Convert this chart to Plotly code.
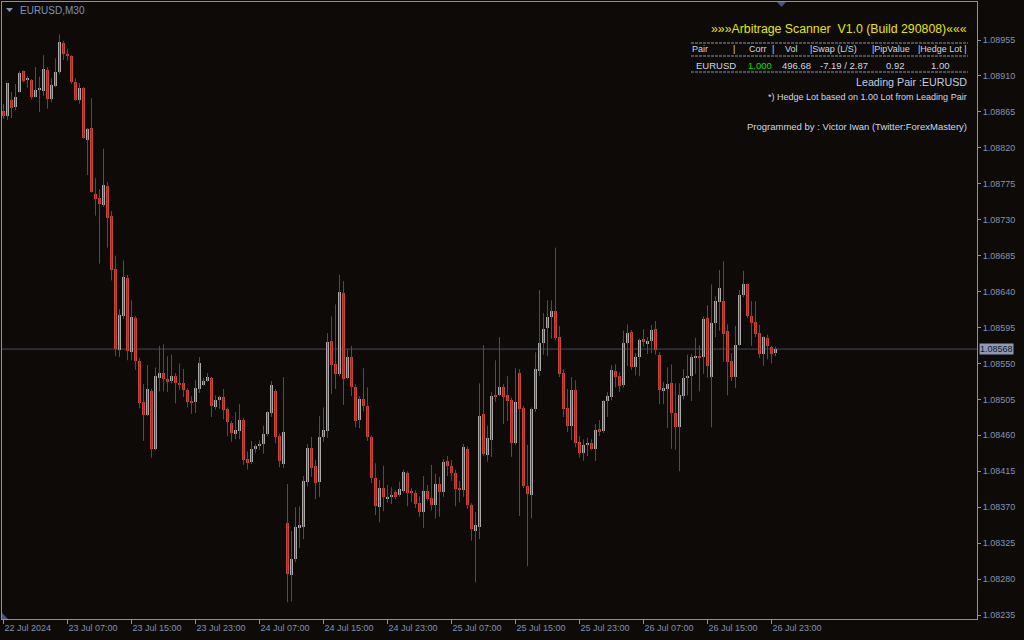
import plotly.graph_objects as go

# ---------------- data (EURUSD M30, 22 Jul 2024 23:00 -> 26 Jul 2024 23:30) ----------------
open_ = [
    1.08866, 1.08860, 1.08880, 1.08871, 1.08890, 1.08916, 1.08906, 1.08905, 1.08884, 1.08893,
    1.08891, 1.08918, 1.08881, 1.08897, 1.08915, 1.08951, 1.08937, 1.08935, 1.08902, 1.08880,
    1.08895, 1.08830, 1.08845, 1.08762, 1.08757, 1.08749, 1.08772, 1.08734, 1.08668, 1.08567,
    1.08610, 1.08657, 1.08564, 1.08607, 1.08553, 1.08502, 1.08485, 1.08516, 1.08443, 1.08532,
    1.08538, 1.08530, 1.08528, 1.08534, 1.08525, 1.08526, 1.08517, 1.08503, 1.08502, 1.08518,
    1.08523, 1.08528, 1.08532, 1.08495, 1.08504, 1.08508, 1.08493, 1.08476, 1.08462, 1.08466,
    1.08479, 1.08430, 1.08426, 1.08443, 1.08447, 1.08449, 1.08462, 1.08488, 1.08515, 1.08459,
    1.08424, 1.08350, 1.08285, 1.08305, 1.08344, 1.08345, 1.08402, 1.08444, 1.08421, 1.08401,
    1.08458, 1.08465, 1.08578, 1.08549, 1.08537, 1.08638, 1.08532, 1.08558, 1.08521, 1.08479,
    1.08505, 1.08497, 1.08458, 1.08407, 1.08370, 1.08394, 1.08380, 1.08383, 1.08389, 1.08385,
    1.08390, 1.08413, 1.08389, 1.08388, 1.08375, 1.08364, 1.08390, 1.08381, 1.08373, 1.08399,
    1.08389, 1.08428, 1.08422, 1.08413, 1.08394, 1.08392, 1.08443, 1.08373, 1.08340, 1.08345,
    1.08487, 1.08435, 1.08454, 1.08510, 1.08510, 1.08520, 1.08511, 1.08504, 1.08450, 1.08538,
    1.08494, 1.08397, 1.08385, 1.08493, 1.08541, 1.08575, 1.08595, 1.08608, 1.08616, 1.08583,
    1.08538, 1.08494, 1.08472, 1.08517, 1.08452, 1.08438, 1.08448, 1.08450, 1.08443, 1.08468,
    1.08465, 1.08503, 1.08508, 1.08541, 1.08534, 1.08523, 1.08575, 1.08589, 1.08546, 1.08558,
    1.08580, 1.08574, 1.08578, 1.08593, 1.08560, 1.08515, 1.08518, 1.08525, 1.08488, 1.08470,
    1.08509, 1.08532, 1.08534, 1.08558, 1.08559, 1.08558, 1.08607, 1.08533, 1.08601, 1.08627,
    1.08628, 1.08590, 1.08553, 1.08533, 1.08573, 1.08636, 1.08649, 1.08610, 1.08602, 1.08588,
    1.08562, 1.08582, 1.08571, 1.08563,
]
high = [
    1.08875, 1.08901, 1.08890, 1.08900, 1.08916, 1.08917, 1.08910, 1.08906, 1.08921, 1.08909,
    1.08936, 1.08921, 1.08907, 1.08932, 1.08962, 1.08954, 1.08944, 1.08936, 1.08907, 1.08901,
    1.08896, 1.08845, 1.08882, 1.08782, 1.08768, 1.08819, 1.08777, 1.08741, 1.08685, 1.08618,
    1.08679, 1.08661, 1.08629, 1.08609, 1.08557, 1.08524, 1.08548, 1.08518, 1.08545, 1.08572,
    1.08574, 1.08559, 1.08561, 1.08538, 1.08550, 1.08543, 1.08519, 1.08509, 1.08529, 1.08558,
    1.08532, 1.08538, 1.08533, 1.08510, 1.08510, 1.08518, 1.08495, 1.08478, 1.08489, 1.08499,
    1.08482, 1.08440, 1.08453, 1.08449, 1.08454, 1.08472, 1.08490, 1.08528, 1.08518, 1.08462,
    1.08533, 1.08399, 1.08340, 1.08370, 1.08371, 1.08409, 1.08449, 1.08458, 1.08429, 1.08484,
    1.08495, 1.08588, 1.08609, 1.08624, 1.08661, 1.08653, 1.08568, 1.08572, 1.08524, 1.08509,
    1.08544, 1.08520, 1.08460, 1.08425, 1.08404, 1.08422, 1.08398, 1.08395, 1.08391, 1.08402,
    1.08417, 1.08415, 1.08394, 1.08391, 1.08384, 1.08409, 1.08398, 1.08423, 1.08412, 1.08408,
    1.08430, 1.08434, 1.08429, 1.08417, 1.08403, 1.08449, 1.08446, 1.08375, 1.08364, 1.08525,
    1.08573, 1.08472, 1.08514, 1.08554, 1.08583, 1.08524, 1.08534, 1.08507, 1.08544, 1.08543,
    1.08497, 1.08448, 1.08495, 1.08564, 1.08642, 1.08613, 1.08629, 1.08629, 1.08695, 1.08597,
    1.08543, 1.08518, 1.08533, 1.08529, 1.08459, 1.08455, 1.08457, 1.08455, 1.08474, 1.08479,
    1.08504, 1.08514, 1.08548, 1.08549, 1.08539, 1.08591, 1.08599, 1.08592, 1.08563, 1.08581,
    1.08593, 1.08583, 1.08598, 1.08603, 1.08564, 1.08527, 1.08545, 1.08549, 1.08525, 1.08525,
    1.08543, 1.08561, 1.08562, 1.08582, 1.08573, 1.08609, 1.08623, 1.08649, 1.08634, 1.08667,
    1.08678, 1.08599, 1.08563, 1.08597, 1.08642, 1.08666, 1.08650, 1.08628, 1.08628, 1.08598,
    1.08584, 1.08586, 1.08572, 1.08571,
]
low = [
    1.08856, 1.08855, 1.08857, 1.08867, 1.08889, 1.08902, 1.08895, 1.08881, 1.08883, 1.08865,
    1.08885, 1.08869, 1.08877, 1.08896, 1.08912, 1.08930, 1.08929, 1.08900, 1.08879, 1.08875,
    1.08831, 1.08786, 1.08764, 1.08735, 1.08675, 1.08746, 1.08695, 1.08654, 1.08559, 1.08558,
    1.08606, 1.08554, 1.08554, 1.08542, 1.08494, 1.08453, 1.08484, 1.08432, 1.08441, 1.08515,
    1.08515, 1.08514, 1.08525, 1.08500, 1.08517, 1.08508, 1.08495, 1.08487, 1.08488, 1.08513,
    1.08522, 1.08527, 1.08483, 1.08492, 1.08493, 1.08480, 1.08459, 1.08452, 1.08455, 1.08455,
    1.08423, 1.08417, 1.08424, 1.08438, 1.08442, 1.08437, 1.08459, 1.08483, 1.08450, 1.08420,
    1.08419, 1.08251, 1.08252, 1.08301, 1.08319, 1.08330, 1.08396, 1.08408, 1.08380, 1.08383,
    1.08452, 1.08457, 1.08512, 1.08518, 1.08534, 1.08498, 1.08530, 1.08509, 1.08470, 1.08469,
    1.08490, 1.08453, 1.08400, 1.08360, 1.08351, 1.08365, 1.08376, 1.08374, 1.08380, 1.08383,
    1.08388, 1.08371, 1.08376, 1.08369, 1.08358, 1.08344, 1.08378, 1.08366, 1.08356, 1.08358,
    1.08383, 1.08409, 1.08403, 1.08371, 1.08376, 1.08383, 1.08368, 1.08328, 1.08276, 1.08330,
    1.08434, 1.08427, 1.08433, 1.08502, 1.08509, 1.08474, 1.08478, 1.08433, 1.08448, 1.08359,
    1.08394, 1.08296, 1.08356, 1.08489, 1.08534, 1.08561, 1.08559, 1.08581, 1.08579, 1.08533,
    1.08483, 1.08464, 1.08454, 1.08445, 1.08432, 1.08428, 1.08434, 1.08442, 1.08428, 1.08459,
    1.08463, 1.08483, 1.08504, 1.08520, 1.08514, 1.08520, 1.08547, 1.08542, 1.08535, 1.08534,
    1.08571, 1.08562, 1.08563, 1.08561, 1.08499, 1.08499, 1.08469, 1.08443, 1.08442, 1.08415,
    1.08505, 1.08510, 1.08503, 1.08537, 1.08515, 1.08537, 1.08532, 1.08470, 1.08583, 1.08591,
    1.08552, 1.08510, 1.08528, 1.08519, 1.08572, 1.08633, 1.08607, 1.08572, 1.08583, 1.08557,
    1.08547, 1.08555, 1.08550, 1.08559,
]
close = [
    1.08860, 1.08901, 1.08870, 1.08884, 1.08914, 1.08904, 1.08906, 1.08884, 1.08892, 1.08894,
    1.08919, 1.08881, 1.08899, 1.08915, 1.08952, 1.08937, 1.08935, 1.08902, 1.08880, 1.08895,
    1.08832, 1.08844, 1.08765, 1.08756, 1.08750, 1.08773, 1.08732, 1.08667, 1.08568, 1.08611,
    1.08658, 1.08566, 1.08608, 1.08553, 1.08500, 1.08485, 1.08518, 1.08443, 1.08534, 1.08538,
    1.08530, 1.08528, 1.08534, 1.08525, 1.08524, 1.08517, 1.08502, 1.08501, 1.08519, 1.08550,
    1.08528, 1.08533, 1.08497, 1.08504, 1.08508, 1.08492, 1.08477, 1.08463, 1.08467, 1.08479,
    1.08429, 1.08425, 1.08443, 1.08447, 1.08449, 1.08462, 1.08489, 1.08523, 1.08458, 1.08428,
    1.08464, 1.08286, 1.08305, 1.08345, 1.08348, 1.08403, 1.08444, 1.08419, 1.08400, 1.08458,
    1.08467, 1.08577, 1.08548, 1.08537, 1.08639, 1.08530, 1.08558, 1.08520, 1.08478, 1.08505,
    1.08497, 1.08458, 1.08406, 1.08371, 1.08394, 1.08383, 1.08383, 1.08384, 1.08383, 1.08393,
    1.08414, 1.08388, 1.08388, 1.08374, 1.08364, 1.08390, 1.08380, 1.08373, 1.08399, 1.08389,
    1.08427, 1.08422, 1.08413, 1.08393, 1.08392, 1.08445, 1.08373, 1.08343, 1.08348, 1.08484,
    1.08437, 1.08457, 1.08509, 1.08509, 1.08520, 1.08508, 1.08503, 1.08450, 1.08502, 1.08493,
    1.08396, 1.08386, 1.08493, 1.08543, 1.08576, 1.08593, 1.08608, 1.08616, 1.08582, 1.08537,
    1.08493, 1.08472, 1.08517, 1.08450, 1.08438, 1.08448, 1.08449, 1.08443, 1.08467, 1.08464,
    1.08503, 1.08509, 1.08542, 1.08533, 1.08522, 1.08576, 1.08588, 1.08545, 1.08558, 1.08579,
    1.08577, 1.08578, 1.08592, 1.08567, 1.08517, 1.08519, 1.08524, 1.08488, 1.08470, 1.08510,
    1.08532, 1.08534, 1.08558, 1.08559, 1.08557, 1.08606, 1.08547, 1.08601, 1.08628, 1.08644,
    1.08587, 1.08552, 1.08533, 1.08573, 1.08636, 1.08649, 1.08609, 1.08601, 1.08587, 1.08562,
    1.08583, 1.08572, 1.08562, 1.08568,
]

# time axis labels (one every 16 bars of 30 min)
x_tick_bars = [0, 16, 32, 48, 64, 80, 96, 112, 128, 144, 160, 176, 192]
x_tick_text = ["22 Jul 2024", "23 Jul 07:00", "23 Jul 15:00", "23 Jul 23:00", "24 Jul 07:00",
               "24 Jul 15:00", "24 Jul 23:00", "25 Jul 07:00", "25 Jul 15:00", "25 Jul 23:00",
               "26 Jul 07:00", "26 Jul 15:00", "26 Jul 23:00"]
y_ticks = [1.08235, 1.08280, 1.08325, 1.08370, 1.08415, 1.08460, 1.08505, 1.08550, 1.08595,
           1.08640, 1.08685, 1.08730, 1.08775, 1.08820, 1.08865, 1.08910, 1.08955]
last_price = 1.08568

# table panel values
panel_title = "\u00bb\u00bb\u00bbArbitrage Scanner  V1.0 (Build 290808)\u00ab\u00ab\u00ab"
row_pair, row_corr, row_vol, row_swap, row_pip, row_lot = "EURUSD", "1.000", "496.68", "-7.19 / 2.87", "0.92", "1.00"

# ---------------- styles ----------------
BG = "#0d0a08"
UP = "#a9a9a9"
DN = "#c9463a"
WICK = "#4e4e4e"
FRAME = "#8a90a6"
AXTXT = "#8193b6"
FONT = "Liberation Sans, Arial, sans-serif"
DOJI_H = 0.0000125

W, H = 1024, 640
L, R, T, B = 2, 47, 2, 21
PW, PH = W - L - R, H - T - B


def px_x(px):
    return (px - L) / PW


def px_y(py):
    return (H - B - py) / PH


n = len(open_)
idx = list(range(n))

# wicks
wx, wy = [], []
for i in idx:
    wx += [i, i, None]
    wy += [low[i], high[i], None]

up_x, up_base, up_h = [], [], []
dn_x, dn_base, dn_h = [], [], []
for i in idx:
    o, c = open_[i], close[i]
    hgt = max(abs(c - o), DOJI_H)
    if c >= o:
        up_x.append(i); up_base.append(min(o, c)); up_h.append(hgt)
    else:
        dn_x.append(i); dn_base.append(min(o, c)); dn_h.append(hgt)

fig = go.Figure()
fig.add_trace(go.Scatter(x=wx, y=wy, mode="lines", line=dict(color=WICK, width=1),
                         hoverinfo="skip", showlegend=False))
fig.add_trace(go.Bar(x=up_x, y=up_h, base=up_base, width=0.75, marker=dict(color=UP, line=dict(width=0)),
                     showlegend=False))
fig.add_trace(go.Bar(x=dn_x, y=dn_h, base=dn_base, width=0.75, marker=dict(color=DN, line=dict(width=0)),
                     showlegend=False))

x0 = -0.375
x1 = x0 + PW / 4.0
y_top = 1.08955 + 38 / 79861.0
y_bot = 1.08235 - 4 / 79861.0

fig.update_layout(
    width=W, height=H, margin=dict(l=L, r=R, t=T, b=B),
    paper_bgcolor=BG, plot_bgcolor=BG, barmode="overlay", bargap=0,
    font=dict(family=FONT, size=9, color=AXTXT),
    showlegend=False,
    xaxis=dict(range=[x0, x1], showgrid=False, zeroline=False, showline=True, linecolor=FRAME,
               linewidth=1, mirror=True, ticks="outside", ticklen=4, tickcolor=FRAME, tickwidth=1,
               tickvals=x_tick_bars, ticktext=x_tick_text, ticklabelposition="outside right",
               tickfont=dict(family=FONT, size=9, color=AXTXT)),
    yaxis=dict(range=[y_bot, y_top], side="right", showgrid=False, zeroline=False, showline=True,
               linecolor=FRAME, linewidth=1, mirror=True, ticks="outside", ticklen=3, tickcolor=FRAME,
               tickvals=y_ticks, ticktext=[f"{v:.5f}" for v in y_ticks],
               tickfont=dict(family=FONT, size=9, color=AXTXT)),
)

# current price line + label
fig.add_shape(type="line", xref="paper", yref="y", x0=0, x1=1, y0=last_price, y1=last_price,
              line=dict(color="#474a63", width=1), layer="below")
fig.add_annotation(xref="paper", yref="y", x=px_x(979), y=last_price, xanchor="left", yanchor="middle",
                   text=f"{last_price:.5f}", showarrow=False, bgcolor="#8d99b5", borderpad=0,
                   font=dict(family=FONT, size=9, color="#141a2a"))

# small markers
fig.add_shape(type="path", xref="paper", yref="paper",
              path=f"M {px_x(777)} {px_y(2)} L {px_x(786)} {px_y(2)} L {px_x(781.5)} {px_y(7)} Z",
              fillcolor="#4a5282", line=dict(width=0))
fig.add_shape(type="path", xref="paper", yref="paper",
              path=f"M {px_x(2)} {px_y(613)} L {px_x(8)} {px_y(619)} L {px_x(2)} {px_y(619)} Z",
              fillcolor="#4a5282", line=dict(width=0))
fig.add_shape(type="path", xref="paper", yref="paper",
              path=f"M {px_x(6)} {px_y(8)} L {px_x(13)} {px_y(8)} L {px_x(9.5)} {px_y(12)} Z",
              fillcolor=AXTXT, line=dict(width=0))
fig.add_annotation(xref="paper", yref="paper", x=px_x(18), y=px_y(10), xanchor="left", yanchor="middle",
                   text="EURUSD,M30", showarrow=False, font=dict(family=FONT, size=10, color=AXTXT))

# info panel
TXT = "#cfd6e4"
fig.add_annotation(xref="paper", yref="paper", x=px_x(969), y=px_y(29), xanchor="right", yanchor="middle",
                   text=panel_title, showarrow=False, font=dict(family=FONT, size=12.3, color="#e6e600"))
for yy in (43, 56, 72):
    fig.add_shape(type="line", xref="paper", yref="paper", x0=px_x(691), x1=px_x(968),
                  y0=px_y(yy), y1=px_y(yy), line=dict(color="#8a94aa", width=1, dash="3px,1px"))
headers = [("Pair", 690), ("|", 731), ("Corr", 747), ("|", 770), ("Vol", 783), ("|Swap (L/S)", 808),
           ("|PipValue", 870), ("|Hedge Lot |", 916)]
for t, xx in headers:
    fig.add_annotation(xref="paper", yref="paper", x=px_x(xx), y=px_y(49.5), xanchor="left",
                       yanchor="middle", text=t, showarrow=False, font=dict(family=FONT, size=9, color=TXT))
cells = [(row_pair, 694, TXT), (row_corr, 746, "#00e000"), (row_vol, 780, TXT), (row_swap, 818, TXT),
         (row_pip, 884, TXT), (row_lot, 929, TXT)]
for t, xx, col in cells:
    fig.add_annotation(xref="paper", yref="paper", x=px_x(xx), y=px_y(66), xanchor="left",
                       yanchor="middle", text=t, showarrow=False, font=dict(family=FONT, size=9.5, color=col))
fig.add_annotation(xref="paper", yref="paper", x=px_x(969), y=px_y(82), xanchor="right", yanchor="middle",
                   text="Leading Pair :EURUSD", showarrow=False, font=dict(family=FONT, size=10.7, color="#c3cde0"))
fig.add_annotation(xref="paper", yref="paper", x=px_x(969), y=px_y(97), xanchor="right", yanchor="middle",
                   text="*) Hedge Lot based on 1.00 Lot from Leading Pair", showarrow=False,
                   font=dict(family=FONT, size=9, color=TXT))
fig.add_annotation(xref="paper", yref="paper", x=px_x(969), y=px_y(126), xanchor="right", yanchor="middle",
                   text="Programmed by : Victor Iwan (Twitter:ForexMastery)", showarrow=False,
                   font=dict(family=FONT, size=9.5, color=TXT))

fig.write_html("out.html", config={"displayModeBar": False},
               post_script="document.body.style.margin='0';document.body.style.padding='0';"
                           "document.body.style.background='" + BG + "';")
